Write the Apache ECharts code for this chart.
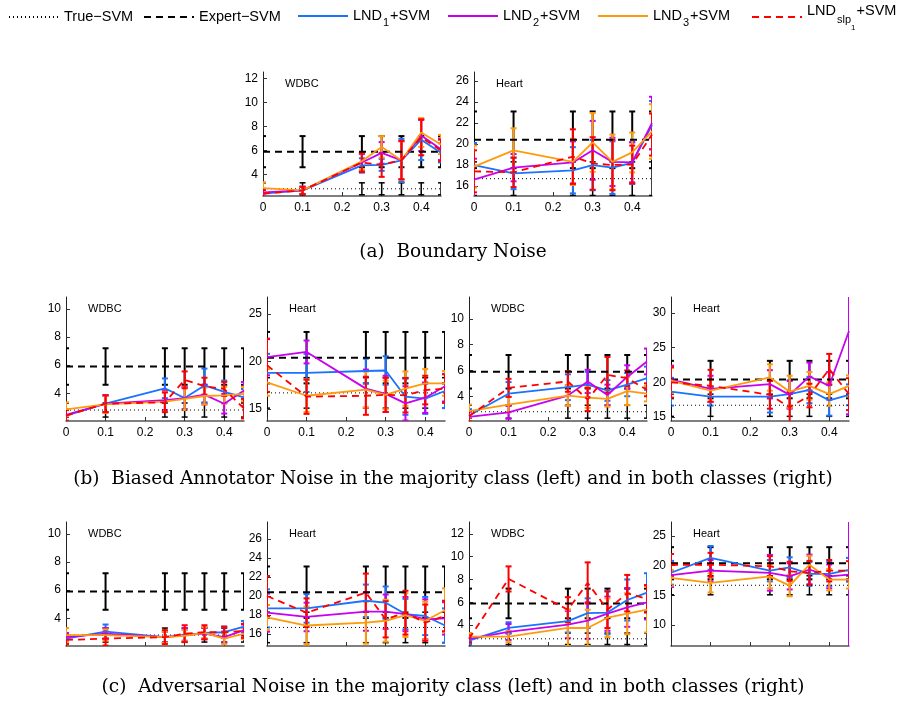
<!DOCTYPE html>
<html><head><meta charset="utf-8">
<script src="https://cdn.jsdelivr.net/npm/echarts@6/dist/echarts.min.js"></script>
<style>html,body{margin:0;padding:0;background:#fff}#c{width:898px;height:717px}</style>
</head><body><div id="c"></div>
<script>
// ---------------- data ----------------
const xNoise = [0, 0.1, 0.25, 0.3, 0.35, 0.4, 0.45];
const xTicks = [0, 0.1, 0.2, 0.3, 0.4];
const legendNames = ['True−SVM', 'Expert−SVM', 'LND1+SVM', 'LND2+SVM', 'LND3+SVM', 'LNDslp1+SVM'];

const trueWDBC     = [2.8, 2.8, 2.8, 2.8, 2.8, 2.8, 2.8];
const trueWDBCErr  = [0.5, 0.5, 0.5, 0.5, 0.5, 0.5, 0.5];
const expertWDBC   = [5.9, 5.9, 5.9, 5.9, 5.9, 5.9, 5.9];
const expertWDBCErr= [1.3, 1.3, 1.3, 1.3, 1.3, 1.3, 1.3];
const trueHeart    = [16.7, 16.7, 16.7, 16.7, 16.7, 16.7, 16.7];
const trueHeartErr = [1.6, 1.6, 1.6, 1.6, 1.6, 1.6, 1.6];
const expertHeart  = [20.4, 20.4, 20.4, 20.4, 20.4, 20.4, 20.4];
const expertHeartErr=[2.7, 2.7, 2.7, 2.7, 2.7, 2.7, 2.7];

// rows: LND1, LND2, LND3, LNDslp1
const boundaryWDBC = [
  [2.4, 2.67, 4.75, 4.8, 5.17, 6.9, 5.8],
  [2.5, 2.67, 5.0, 5.8, 5.17, 7.25, 6.1],
  [2.85, 2.67, 5.1, 6.3, 5.17, 7.5, 6.5],
  [2.4, 2.67, 5.0, 4.8, 5.2, 7.1, 6.0]];
const boundaryWDBCErr = [
  [0.3, 0.3, 0.6, 0.5, 1.8, 1.7, 0.8],
  [0.3, 0.3, 0.7, 0.9, 1.6, 1.3, 0.9],
  [0.5, 0.3, 0.7, 0.9, 1.6, 1.2, 0.8],
  [0.3, 0.3, 0.8, 1.0, 1.6, 1.5, 0.9]];
const boundaryHeart = [
  [18.0, 17.2, 17.5, 18.0, 17.75, 18.2, 21.8],
  [16.6, 17.75, 18.25, 19.4, 18.3, 18.25, 22.0],
  [17.85, 19.4, 18.3, 20.15, 18.3, 19.2, 21.2],
  [17.4, 17.3, 18.8, 18.15, 18.0, 18.05, 20.9]];
const boundaryHeartErr = [
  [2.1, 1.5, 2.2, 2.4, 2.5, 2.0, 2.3],
  [2.0, 1.3, 2.0, 2.8, 2.3, 1.9, 2.5],
  [2.0, 2.1, 2.2, 2.8, 2.6, 1.9, 2.6],
  [2.0, 1.4, 2.6, 2.5, 2.4, 1.8, 2.0]];
const biasedMajWDBC = [
  [2.4, 3.25, 4.35, 3.65, 4.55, 4.1, 3.7],
  [2.45, 3.25, 3.5, 3.65, 3.9, 3.25, 4.2],
  [2.85, 3.2, 3.4, 3.6, 3.8, 3.85, 3.95],
  [2.4, 3.25, 3.35, 4.95, 4.5, 4.3, 2.9]];
const biasedMajWDBCErr = [
  [0.4, 0.6, 0.7, 0.8, 1.2, 0.8, 0.6],
  [0.4, 0.6, 0.7, 0.8, 0.7, 0.7, 0.6],
  [0.5, 0.6, 0.7, 0.8, 0.6, 0.6, 0.5],
  [0.4, 0.6, 0.7, 0.6, 0.6, 0.5, 0.7]];
const biasedMajHeart = [
  [18.8, 18.8, 19.0, 19.05, 16.3, 16.1, 16.9],
  [20.45, 21.0, 17.15, 16.6, 15.6, 16.2, 17.4],
  [17.8, 16.4, 17.05, 16.5, 17.15, 17.7, 17.7],
  [19.6, 16.3, 16.4, 16.5, 16.45, 17.0, 17.15]];
const biasedMajHeartErr = [
  [2.0, 2.0, 1.3, 1.5, 1.9, 1.6, 1.8],
  [1.9, 1.2, 2.0, 1.9, 1.8, 1.6, 1.6],
  [1.4, 1.7, 1.9, 1.5, 1.8, 1.5, 1.3],
  [2.8, 1.8, 2.0, 1.8, 1.8, 1.5, 1.5]];
const biasedBothWDBC = [
  [2.5, 4.2, 4.7, 4.9, 4.45, 4.9, 5.4],
  [2.4, 2.75, 4.05, 5.15, 4.1, 5.5, 6.7],
  [2.85, 3.35, 4.05, 3.9, 3.8, 4.4, 4.2],
  [2.45, 4.65, 5.15, 3.75, 5.65, 5.4, 4.5]];
const biasedBothWDBCErr = [
  [0.5, 0.9, 1.0, 1.0, 0.8, 0.9, 0.9],
  [0.4, 0.5, 0.8, 0.9, 0.8, 0.9, 1.0],
  [0.5, 0.6, 0.8, 0.8, 0.6, 1.1, 0.6],
  [0.4, 0.7, 0.8, 0.9, 1.4, 0.6, 0.5]];
const biasedBothHeart = [
  [18.65, 17.95, 17.95, 18.3, 18.9, 17.4, 18.2],
  [20.4, 19.05, 19.75, 18.2, 20.85, 19.5, 27.4],
  [20.25, 18.8, 20.7, 18.65, 19.5, 18.3, 19.5],
  [20.0, 19.5, 18.2, 16.4, 18.1, 21.9, 18.3]];
const biasedBothHeartErr = [
  [2.0, 1.3, 2.3, 2.0, 1.9, 2.2, 1.5],
  [2.0, 1.9, 2.0, 2.0, 2.0, 2.0, 12.0],
  [1.8, 1.6, 1.9, 2.3, 2.0, 1.7, 1.5],
  [2.2, 2.3, 2.0, 2.2, 1.7, 2.2, 2.3]];
const advMajWDBC = [
  [2.55, 3.05, 2.65, 2.8, 2.95, 3.0, 3.4],
  [2.65, 2.9, 2.65, 2.8, 2.9, 2.65, 3.15],
  [2.8, 2.8, 2.65, 2.75, 2.95, 2.55, 2.9],
  [2.45, 2.55, 2.65, 2.9, 3.0, 3.0, 3.1]];
const advMajWDBCErr = [
  [0.3, 0.5, 0.4, 0.4, 0.4, 0.4, 0.4],
  [0.3, 0.4, 0.4, 0.5, 0.4, 0.4, 0.4],
  [0.5, 0.4, 0.4, 0.4, 0.4, 0.4, 0.4],
  [0.3, 0.5, 0.5, 0.6, 0.5, 0.4, 0.5]];
const advMajHeart = [
  [18.7, 18.7, 19.5, 19.3, 18.1, 17.9, 16.9],
  [18.25, 17.8, 18.35, 18.35, 18.1, 17.55, 17.65],
  [17.75, 16.9, 17.2, 17.4, 18.0, 17.4, 18.5],
  [20.0, 18.25, 20.35, 17.55, 18.25, 17.2, 17.9]];
const advMajHeartErr = [
  [2.0, 1.5, 1.7, 1.7, 1.6, 2.0, 1.8],
  [2.0, 1.5, 2.0, 1.8, 1.8, 2.1, 1.7],
  [1.3, 2.0, 2.2, 2.2, 2.3, 2.0, 2.3],
  [2.1, 1.5, 2.0, 1.9, 2.3, 1.9, 1.6]];
const advBothWDBC = [
  [2.65, 3.75, 4.35, 5.05, 5.1, 6.2, 6.85],
  [2.8, 3.4, 4.05, 4.4, 5.0, 5.55, 6.0],
  [3.0, 3.0, 3.75, 3.75, 4.65, 5.0, 5.35],
  [2.8, 8.05, 5.35, 7.7, 5.35, 6.8, 6.3]];
const advBothWDBCErr = [
  [0.3, 0.5, 1.0, 1.3, 1.9, 1.8, 1.7],
  [0.3, 0.7, 1.2, 1.6, 1.5, 1.7, 1.5],
  [0.3, 0.5, 1.6, 1.6, 1.7, 1.8, 2.0],
  [0.3, 1.1, 1.1, 1.8, 1.6, 1.6, 1.2]];
const advBothHeart = [
  [18.8, 21.3, 19.15, 19.7, 18.6, 18.6, 19.3],
  [18.4, 19.15, 18.8, 18.2, 19.35, 18.2, 18.5],
  [17.95, 17.1, 18.2, 16.65, 20.15, 17.65, 17.65],
  [20.15, 20.15, 19.9, 19.05, 18.8, 19.15, 19.15]];
const advBothHeartErr = [
  [2.0, 2.0, 1.8, 1.7, 2.0, 2.0, 2.0],
  [2.0, 1.8, 3.0, 2.2, 2.5, 2.0, 15.0],
  [1.3, 1.6, 2.0, 1.8, 1.5, 1.8, 1.5],
  [1.8, 2.0, 1.7, 1.6, 2.0, 1.8, 1.6]];

const yTicksW12 = [4, 6, 8, 10, 12];
const yTicksW10 = [4, 6, 8, 10];
const yTicksH26 = [16, 18, 20, 22, 24, 26];
const yTicksH25 = [15, 20, 25];
const yTicksH30 = [15, 20, 25, 30];
const yTicksH10 = [10, 15, 20, 25];

const captions = [
  '(a)  Boundary Noise',
  '(b)  Biased Annotator Noise in the majority class (left) and in both classes (right)',
  '(c)  Adversarial Noise in the majority class (left) and in both classes (right)'];

// ---------------- layout / style ----------------
const lndColors = ['#1a72ff', '#c800f0', '#ff9a0a', '#ff0000'];
const SANS = 'Liberation Sans';
const W = 178, H = 124;
const panels = [
  {m: boundaryWDBC, e: boundaryWDBCErr, ds: 'WDBC', left: 263, top: 72, ymin: 2.2, ymax: 12.55, yt: yTicksW12, xl: true},
  {m: boundaryHeart, e: boundaryHeartErr, ds: 'Heart', left: 474, top: 72, ymin: 15.05, ymax: 26.86, yt: yTicksH26, xl: true},
  {m: biasedMajWDBC, e: biasedMajWDBCErr, ds: 'WDBC', left: 66, top: 297, ymin: 2.02, ymax: 10.85, yt: yTicksW10, xl: true},
  {m: biasedMajHeart, e: biasedMajHeartErr, ds: 'Heart', left: 267, top: 297, ymin: 13.75, ymax: 26.77, yt: yTicksH25, xl: true},
  {m: biasedBothWDBC, e: biasedBothWDBCErr, ds: 'WDBC', left: 469, top: 297, ymin: 2.08, ymax: 11.7, yt: yTicksW10, xl: true},
  {m: biasedBothHeart, e: biasedBothHeartErr, ds: 'Heart', left: 671, top: 297, ymin: 14.43, ymax: 32.3, yt: yTicksH30, xl: true},
  {m: advMajWDBC, e: advMajWDBCErr, ds: 'WDBC', left: 66, top: 522, ymin: 2.02, ymax: 10.85, yt: yTicksW10, xl: false},
  {m: advMajHeart, e: advMajHeartErr, ds: 'Heart', left: 267, top: 522, ymin: 14.75, ymax: 27.77, yt: yTicksH26, xl: false},
  {m: advBothWDBC, e: advBothWDBCErr, ds: 'WDBC', left: 469, top: 522, ymin: 2.17, ymax: 13.04, yt: yTicksW12, xl: false},
  {m: advBothHeart, e: advBothHeartErr, ds: 'Heart', left: 671, top: 522, ymin: 6.5, ymax: 27.33, yt: yTicksH10, xl: false}
];

function errRender(color, lw, cap) {
  return function (params, api) {
    const x = api.value(0), lo = api.value(1), hi = api.value(2);
    const a = api.coord([x, lo]), b = api.coord([x, hi]);
    const st = {stroke: color, lineWidth: lw, fill: null};
    return {type: 'group', children: [
      {type: 'line', shape: {x1: a[0], y1: a[1], x2: b[0], y2: b[1]}, style: st},
      {type: 'line', shape: {x1: a[0] - cap, y1: a[1], x2: a[0] + cap, y2: a[1]}, style: st},
      {type: 'line', shape: {x1: b[0] - cap, y1: b[1], x2: b[0] + cap, y2: b[1]}, style: st}
    ]};
  };
}
function errData(mean, err) { return xNoise.map((x, i) => [x, mean[i] - err[i], mean[i] + err[i]]); }
function lineData(mean) { return xNoise.map((x, i) => [x, mean[i]]); }

const grid = [], xAxis = [], yAxis = [], series = [], graphic = [];
panels.forEach((p, i) => {
  grid.push({left: p.left, top: p.top, width: W, height: H});
  xAxis.push({type: 'value', gridIndex: i, min: 0, max: 0.45,
    axisLine: {show: true, lineStyle: {color: '#555', width: 1.5}},
    axisTick: {show: true, inside: true, length: 4, customValues: xTicks, lineStyle: {color: '#333'}},
    axisLabel: {show: p.xl, customValues: xTicks, color: '#000', fontSize: 12, fontFamily: SANS, margin: 6},
    splitLine: {show: false}});
  yAxis.push({type: 'value', gridIndex: i, min: p.ymin, max: p.ymax,
    axisLine: {show: true, lineStyle: {color: '#222', width: 1}},
    axisTick: {show: true, inside: true, length: 4, customValues: p.yt, lineStyle: {color: '#333'}},
    axisLabel: {customValues: p.yt, color: '#000', fontSize: 12, fontFamily: SANS, margin: 5},
    splitLine: {show: false}});
  const isW = p.ds === 'WDBC';
  const tM = isW ? trueWDBC : trueHeart, tE = isW ? trueWDBCErr : trueHeartErr;
  const eM = isW ? expertWDBC : expertHeart, eE = isW ? expertWDBCErr : expertHeartErr;
  const ax = {xAxisIndex: i, yAxisIndex: i};
  series.push(Object.assign({type: 'custom', name: 'err-true', clip: true, silent: true,
    renderItem: errRender('#000', 1.5, 3), data: errData(tM, tE), encode: {x: 0, y: [1, 2]}}, ax));
  series.push(Object.assign({type: 'line', name: legendNames[0], symbol: 'none', silent: true,
    lineStyle: {color: '#000', width: 1, type: [1, 3]}, itemStyle: {color: '#000'}, data: lineData(tM)}, ax));
  series.push(Object.assign({type: 'custom', name: 'err-expert', clip: true, silent: true,
    renderItem: errRender('#000', 2, 3), data: errData(eM, eE), encode: {x: 0, y: [1, 2]}}, ax));
  series.push(Object.assign({type: 'line', name: legendNames[1], symbol: 'none', silent: true,
    lineStyle: {color: '#000', width: 2, type: [7, 5]}, itemStyle: {color: '#000'}, data: lineData(eM)}, ax));
  for (let k = 0; k < 4; k++) {
    series.push(Object.assign({type: 'custom', name: 'err-' + k, clip: true, silent: true,
      renderItem: errRender(lndColors[k], 2, 3), data: errData(p.m[k], p.e[k]), encode: {x: 0, y: [1, 2]}}, ax));
    series.push(Object.assign({type: 'line', name: legendNames[2 + k], symbol: 'none', silent: true,
      lineStyle: {color: lndColors[k], width: 1.8, type: k === 3 ? [7, 5] : 'solid'},
      itemStyle: {color: lndColors[k]}, data: lineData(p.m[k])}, ax));
  }
  graphic.push({type: 'text', left: p.left + 22, top: p.top + 6,
    style: {text: p.ds, font: '11px "Liberation Sans"', fill: '#000'}});
});

const capY = [243, 470, 678];
captions.forEach((c, i) => {
  graphic.push({type: 'text', x: 453, y: capY[i],
    style: {text: c, font: '18.5px "DejaVu Serif"', fill: '#000', align: 'center', verticalAlign: 'top'}});
});

const richMap = {
  'True−SVM': '{m|True−SVM}',
  'Expert−SVM': '{m|Expert−SVM}',
  'LND1+SVM': '{m|LND}{s|1}{m|+SVM}',
  'LND2+SVM': '{m|LND}{s|2}{m|+SVM}',
  'LND3+SVM': '{m|LND}{s|3}{m|+SVM}',
  'LNDslp1+SVM': '{m|LND}{s2|slp}{ss|1}{m|+SVM}'
};
const rich = {
  m: {fontFamily: SANS, fontSize: 14.5, lineHeight: 16, verticalAlign: 'top', color: '#000'},
  s: {fontFamily: SANS, fontSize: 11, lineHeight: 11, verticalAlign: 'top', padding: [9, 1, 0, 1], color: '#000'},
  s2: {fontFamily: SANS, fontSize: 11, lineHeight: 11, verticalAlign: 'top', padding: [11, 0, 0, 1], color: '#000'},
  ss: {fontFamily: SANS, fontSize: 8, lineHeight: 9, verticalAlign: 'top', padding: [21, 1, 0, 0], color: '#000'}
};
const legendLeft = [8, 143, 297, 447, 597, 751];
const legendTop = [9, 9, 8, 8, 8, 3];
const legend = legendNames.map((n, i) => ({
  data: [n], left: legendLeft[i], top: legendTop[i], padding: 0,
  itemWidth: 50, itemHeight: 12, selectedMode: false,
  itemStyle: {opacity: 0},
  formatter: nm => richMap[nm],
  textStyle: {fontFamily: SANS, fontSize: 14, color: '#000', rich,
    padding: i === 5 ? [0, 0, 12, 0] : 0}
}));

const option = {
  animation: false,
  backgroundColor: '#fff',
  legend,
  grid, xAxis, yAxis, series, graphic
};
const chart = echarts.init(document.getElementById('c'), null, {renderer: 'canvas'});
chart.setOption(option);
</script></body></html>
